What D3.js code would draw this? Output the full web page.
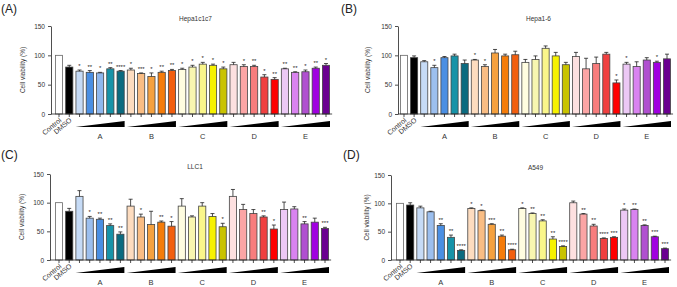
<!DOCTYPE html>
<html>
<head>
<meta charset="utf-8">
<script src="https://cdn.jsdelivr.net/npm/d3@7"></script>
<style>
  body { margin: 0; background: #fff; }
  svg { display: block; font-family: "Liberation Sans", Arial, sans-serif; }
</style>
</head>
<body>
<svg id="chart" width="677" height="287"></svg>
<script>
// categories (bars) and groups
const categories = ["Control","DMSO","A1","A2","A3","A4","A5","B1","B2","B3","B4","B5",
  "C1","C2","C3","C4","C5","D1","D2","D3","D4","D5","E1","E2","E3","E4","E5"];
const groups = ["A","B","C","D","E"];
const yTicks = [0, 50, 100, 150];

// bar fills
const colorsStd = ["#ffffff","#000000",
  "#c6dbf6","#9cbfee","#4a8fe3","#1793a8","#0b6b80",
  "#fddcbf","#f9bd84","#f5a13f","#f57c0a","#f25f0f",
  "#fffde0","#f8f6b0","#faf68a","#f7f200","#c9c300",
  "#fde0e0","#fba5a5","#f87d7d","#f04040","#ff0000",
  "#ecc8f5","#d983f0","#b050d0","#a000e0","#6a0090"];
// panel (A) has the 2nd and 3rd blue swapped
const colorsA = colorsStd.slice();
colorsA[3] = "#4a8fe3"; colorsA[4] = "#8fb8ee";

// Hepa1c1c7
const hepaMean = [100,80,73,71,70,77,73,75,69,64,71,74,76,80,85,83,77,84,81,81,63,59,77,71,72,78,83];
const hepaErr  = [0,3,2,3,1,2,1,3,1,6,2,2,2,3,3,2,3,4,3,2,4,3,1,1,3,2,3];
const hepaSig  = ["","","*","**","*","**","****","*","***","*","**","**","*","*","*","*","*",
  "","*","**","*","**","**","**","*","**","*"];
// Hepa1-6
const hepa16Mean = [100,96,89,79,96,99,86,92,81,104,99,101,88,93,112,99,84,98,77,86,102,53,85,81,92,88,94];
const hepa16Err  = [0,3,2,4,2,3,6,1,3,6,3,6,5,6,4,6,4,7,18,11,3,5,3,8,4,2,8];
const hepa16Sig  = ["","","","*","","","","*","*","","","","","","","","","","","","","*","*","","","*",""];
// LLC1
const llcMean = [100,85,111,73,71,60,45,94,75,62,66,59,94,75,94,76,58,111,88,81,75,54,88,89,63,66,55];
const llcErr  = [0,5,10,3,2,3,4,12,5,23,2,8,13,2,6,5,6,12,9,7,2,7,13,4,4,7,2];
const llcSig  = ["","","","*","**","**","**","","*","","**","*","","","","","*","","","","**","*","","","**","","***"];
// A549
const a549Mean = [100,97,92,85,61,40,17,91,87,63,42,18,91,82,69,37,24,101,81,60,38,40,88,89,61,41,20];
const a549Err  = [0,4,3,1,3,4,1,1,1,1,2,1,1,1,2,4,1,3,1,3,1,1,2,1,1,1,1];
const a549Sig  = ["","","","","**","**","****","*","*","***","**","****","*","**","**","**","****",
  "","**","**","****","***","*","**","**","***","***"];

const panels = [
  {tag:"(A)", name:"Hepa1c1c7", mean:hepaMean, err:hepaErr, sig:hepaSig, colors:colorsA,
   tagX:1, tagY:13, axisX:51, first:59, last:326, yTop:26, yBot:114, labX:25},
  {tag:"(B)", name:"Hepa1-6", mean:hepa16Mean, err:hepa16Err, sig:hepa16Sig, colors:colorsStd,
   tagX:341, tagY:13, axisX:398, first:404, last:667, yTop:26, yBot:114, labX:370},
  {tag:"(C)", name:"LLC1", mean:llcMean, err:llcErr, sig:llcSig, colors:colorsStd,
   tagX:1, tagY:159, axisX:50, first:59, last:325, yTop:174, yBot:260, labX:24},
  {tag:"(D)", name:"A549", mean:a549Mean, err:a549Err, sig:a549Sig, colors:colorsStd,
   tagX:343, tagY:159, axisX:391, first:400, last:665, yTop:175, yBot:260, labX:369}
];

const svg = d3.select("#chart");

panels.forEach(p => {
  const step = (p.last - p.first) / (categories.length - 1);
  const x = d3.scaleBand().domain(categories)
    .range([p.first - step/2, p.last + step/2]).paddingInner(0.3).paddingOuter(0.15);
  const y = d3.scaleLinear().domain([0,150]).range([p.yBot, p.yTop]);
  const g = svg.append("g");
  const cx = d => x(d) + x.bandwidth()/2;

  g.append("text").attr("x", p.tagX).attr("y", p.tagY)
    .attr("font-size", 12).attr("fill", "#222").text(p.tag);
  g.append("text").attr("x", (p.first + p.last)/2 + 3).attr("y", p.yTop - 5)
    .attr("text-anchor", "middle").attr("font-size", 6.5).attr("fill", "#333").text(p.name);

  // bars
  g.selectAll(".bar").data(categories).join("rect")
    .attr("x", d => x(d)).attr("width", x.bandwidth())
    .attr("y", (d,i) => y(p.mean[i])).attr("height", (d,i) => p.yBot - y(p.mean[i]))
    .attr("fill", (d,i) => p.colors[i])
    .attr("stroke", (d,i) => i === 0 ? "#666" : "#444").attr("stroke-width", 0.8);

  // error bars (upper)
  const eb = g.selectAll(".eb").data(categories).join("g");
  eb.filter((d,i) => p.err[i] > 0).append("line")
    .attr("x1", cx).attr("x2", cx)
    .attr("y1", d => y(p.mean[categories.indexOf(d)]))
    .attr("y2", d => { const i = categories.indexOf(d); return y(p.mean[i] + p.err[i]); })
    .attr("stroke", "#222").attr("stroke-width", 0.8);
  eb.filter((d,i) => p.err[i] > 0).append("line")
    .attr("x1", d => cx(d) - 2).attr("x2", d => cx(d) + 2)
    .attr("y1", d => { const i = categories.indexOf(d); return y(p.mean[i] + p.err[i]); })
    .attr("y2", d => { const i = categories.indexOf(d); return y(p.mean[i] + p.err[i]); })
    .attr("stroke", "#222").attr("stroke-width", 0.8);

  // significance marks
  g.selectAll(".sig").data(categories).join("text")
    .attr("x", cx)
    .attr("y", (d,i) => y(p.mean[i] + p.err[i]) - 2)
    .attr("text-anchor", "middle").attr("font-size", 6).attr("fill", "#222")
    .text((d,i) => p.sig[i]);

  // y axis
  const ya = g.append("g").attr("transform", `translate(${p.axisX},0)`)
    .call(d3.axisLeft(y).tickValues(yTicks).tickSize(3).tickSizeOuter(0));
  ya.selectAll("text").attr("font-size", 6.5).attr("fill", "#333").attr("font-family", null);
  ya.selectAll("line, path").attr("stroke", "#222").attr("stroke-width", 0.8);
  g.append("text")
    .attr("transform", `translate(${p.labX},${(p.yTop + p.yBot)/2}) rotate(-90)`)
    .attr("text-anchor", "middle").attr("font-size", 6.5).attr("fill", "#333")
    .text("Cell viability (%)");

  // x axis
  const xa = g.append("g").attr("transform", `translate(0,${p.yBot})`)
    .call(d3.axisBottom(x).tickSize(3).tickFormat(""));
  xa.select(".domain").remove();
  xa.selectAll("line").attr("stroke", "#222").attr("stroke-width", 0.8);
  g.append("line").attr("x1", p.axisX).attr("x2", p.last + step/2 + 1)
    .attr("y1", p.yBot).attr("y2", p.yBot).attr("stroke", "#222").attr("stroke-width", 0.8);

  ["Control","DMSO"].forEach(c => {
    g.append("text")
      .attr("transform", `translate(${cx(c) + 3},${p.yBot + 7}) rotate(-40)`)
      .attr("text-anchor", "end").attr("font-size", 7).attr("fill", "#333").text(c);
  });

  // dose wedges and group labels
  groups.forEach(gr => {
    const x0 = cx(gr + "1") - 4, x1 = cx(gr + "5") + 4;
    g.append("path")
      .attr("d", `M${x0},${p.yBot + 13}L${x1},${p.yBot + 7}L${x1},${p.yBot + 13}Z`)
      .attr("fill", "#000");
    g.append("text").attr("x", (x0 + x1)/2).attr("y", p.yBot + 25)
      .attr("text-anchor", "middle").attr("font-size", 7.5).attr("fill", "#333").text(gr);
  });
});
</script>
</body>
</html>
